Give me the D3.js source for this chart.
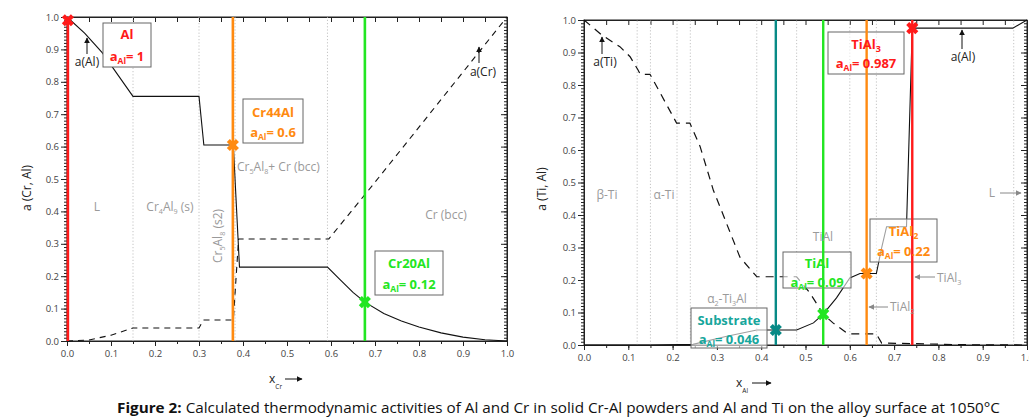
<!DOCTYPE html>
<html><head><meta charset="utf-8">
<script src="https://cdn.jsdelivr.net/npm/d3@7/dist/d3.min.js"></script>
<style>body{margin:0;background:#fff}svg{display:block}</style>
</head><body>
<script>
// ---------- DATA ----------
// Left panel: Cr-Al powders
const leftAlX = [0,0.04,0.08,0.15,0.30,0.311,0.378,0.392,0.592,0.62,0.65,0.677,0.72,0.76,0.80,0.85,0.90,0.95,1.0];
const leftAlY = [1.0,0.95,0.89,0.755,0.755,0.605,0.605,0.228,0.228,0.19,0.15,0.12,0.085,0.062,0.043,0.025,0.012,0.004,0.0];
const leftCrX = [0,0.05,0.10,0.15,0.30,0.31,0.378,0.39,0.595,0.70,0.80,0.90,1.0];
const leftCrY = [0,0.003,0.018,0.04,0.04,0.065,0.065,0.315,0.315,0.49,0.66,0.83,1.0];
const leftPhaseBounds = [0.15,0.30,0.382,0.592];
const leftAlloyX = [0.002,0.377,0.677];
const leftAlloyA = [0.99,0.605,0.12];
const leftAlloyName = ["Al","Cr44Al","Cr20Al"];
const leftAlloyVal = ["1","0.6","0.12"];
// Right panel: Ti-Al alloy surface
const rightAlX = [0,0.15,0.246,0.32,0.39,0.48,0.518,0.54,0.57,0.60,0.623,0.66,0.672,0.683,0.728,0.741,0.968,1.0];
const rightAlY = [0,0,0.002,0.026,0.046,0.046,0.068,0.095,0.145,0.206,0.22,0.22,0.30,0.364,0.364,0.975,0.975,1.0];
const rightTiX = [0,0.04,0.081,0.104,0.122,0.127,0.149,0.209,0.239,0.262,0.292,0.307,0.352,0.39,0.48,0.51,0.54,0.562,0.596,0.66,0.672,0.75,0.85,1.0];
const rightTiY = [1.0,0.954,0.918,0.887,0.846,0.833,0.833,0.683,0.683,0.611,0.476,0.425,0.27,0.21,0.21,0.16,0.095,0.068,0.034,0.034,0.006,0.004,0.001,0.0];
const rightPhaseBounds = [0.12,0.15,0.21,0.24,0.39,0.48,0.60,0.66,0.97];
const rightAlloyX = [0.433,0.540,0.638,0.741];
const rightAlloyA = [0.046,0.095,0.22,0.975];
const rightAlloyName = ["Substrate","TiAl","TiAl₂","TiAl₃"];
const rightAlloyVal = ["0.046","0.09","0.22","0.987"];
const majorTicks = d3.range(0,11).map(i=>i/10);
const tickLabels = majorTicks.map(d=>d.toFixed(1));

// ---------- STYLE ----------
const RED="#ff1a1a", ORANGE="#ff8a10", GREEN="#22e622", TEAL="#078a86", TEALTXT="#17a69c";
const GRAY="#9a9a9a";
const FONT="'Open Sans', 'DejaVu Sans', sans-serif";

const svg = d3.select("body").append("svg").attr("width",1029).attr("height",419)
  .style("font-family",FONT);
const defs = svg.append("defs");
function arrowMarker(id,color){
  defs.append("marker").attr("id",id).attr("viewBox","0 0 10 10").attr("refX",9).attr("refY",5)
   .attr("markerWidth",6).attr("markerHeight",6).attr("orient","auto-start-reverse")
   .append("path").attr("d","M0,0L10,5L0,10z").attr("fill",color);
}
arrowMarker("arrK","#111"); arrowMarker("arrG","#888");

function panel(x,y,xr,yr){
  const g = svg.append("g");
  g.append("rect").attr("x",xr[0]).attr("y",yr[1]).attr("width",xr[1]-xr[0]).attr("height",yr[0]-yr[1])
    .attr("fill","none").attr("stroke","#222").attr("stroke-width",1);
  const minorY = d3.range(0,101).map(i=>i/100);
  const minorX = d3.range(0,21).map(i=>i/20);
  g.append("g").attr("transform",`translate(${xr[0]},0)`)
   .call(d3.axisLeft(y).tickValues(minorY).tickFormat("").tickSize(3).tickSizeOuter(0));
  g.append("g").attr("transform",`translate(${xr[1]},0)`)
   .call(d3.axisLeft(y).tickValues(minorY).tickFormat("").tickSize(-3).tickSizeOuter(0))
   .call(a=>a.selectAll(".tick line").attr("x2",-3));
  g.append("g").attr("transform",`translate(${xr[1]},0)`)
   .call(d3.axisRight(y).tickValues(majorTicks).tickFormat("").tickSize(-6).tickSizeOuter(0));
  g.append("g").attr("transform",`translate(0,${yr[0]})`)
   .call(d3.axisBottom(x).tickValues(minorX).tickFormat("").tickSize(3).tickSizeOuter(0));
  g.append("g").attr("transform",`translate(0,${yr[1]})`)
   .call(d3.axisTop(x).tickValues(minorX).tickFormat("").tickSize(-5).tickSizeOuter(0));
  g.append("g").attr("transform",`translate(${xr[0]},0)`)
   .call(d3.axisLeft(y).tickValues(majorTicks).tickFormat((d,i)=>tickLabels[i]).tickSize(6).tickPadding(2).tickSizeOuter(0));
  g.append("g").attr("transform",`translate(0,${yr[0]})`)
   .call(d3.axisBottom(x).tickValues(majorTicks).tickFormat((d,i)=>tickLabels[i]).tickSize(5).tickPadding(4).tickSizeOuter(0));
  g.selectAll(".domain").attr("stroke","#222");
  g.selectAll(".tick line").attr("stroke","#222");
  g.selectAll(".tick text").attr("font-size",9.5).attr("fill","#444").attr("font-family",FONT);
  return g;
}

function lineOf(x,y,xs,ys){
  return d3.line().x((d,i)=>x(xs[i])).y((d,i)=>y(ys[i]))(xs);
}
function phaseLines(g,x,yr,bounds){
  g.selectAll(null).data(bounds).join("line")
   .attr("x1",d=>x(d)).attr("x2",d=>x(d)).attr("y1",yr[0]).attr("y2",yr[1])
   .attr("stroke","#bdbdbd").attr("stroke-width",0.9).attr("stroke-dasharray","1.2,2");
}
function grayText(g,xp,yp,parts,opts={}){
  const sz = opts.size||12;
  const t = g.append("text").attr("x",xp).attr("y",yp).attr("fill",GRAY).attr("font-size",sz)
    .attr("text-anchor",opts.anchor||"middle");
  if(opts.rotate) t.attr("transform",`rotate(-90,${xp},${yp})`);
  parts.forEach(p=>{
    const s = t.append("tspan").text(p[0]);
    if(p[1]==="sub") s.attr("font-size",sz*0.6).attr("dy",3);
    else if(p[1]==="back") s.attr("dy",-3);
  });
  return t;
}
function xMarker(g,cx,cy,color){
  g.append("path").attr("d",d3.symbol(d3.symbolCross,92)())
   .attr("transform",`translate(${cx},${cy}) rotate(45)`).attr("fill",color);
}
function alloyBox(g,b,fillOp){
  g.append("rect").attr("x",b[0]).attr("y",b[1]).attr("width",b[2]-b[0]).attr("height",b[3]-b[1])
   .attr("fill","#fff").attr("fill-opacity",fillOp).attr("stroke","#666").attr("stroke-width",1);
}
function alloyText(g,b,name,val,color,base){
  const cx=(b[0]+b[2])/2;
  const t1 = g.append("text").attr("x",cx).attr("y",base[0]).attr("text-anchor","middle")
    .attr("fill",color).attr("font-weight","bold").attr("font-size",13);
  if(name.endsWith("₂")||name.endsWith("₃")){
    t1.append("tspan").text(name.slice(0,-1));
    t1.append("tspan").text(name.endsWith("₂")?"2":"3").attr("font-size",9).attr("dy",3);
  } else t1.text(name);
  const t2 = g.append("text").attr("x",cx).attr("y",base[1]).attr("text-anchor","middle")
    .attr("fill",color).attr("font-weight","bold").attr("font-size",13);
  t2.append("tspan").text("a");
  t2.append("tspan").text("Al").attr("font-size",8.5).attr("dy",3);
  t2.append("tspan").text("= "+val).attr("dy",-3);
}
function arrowLine(g,x1,y1,x2,y2,mk,color){
  g.append("line").attr("x1",x1).attr("y1",y1).attr("x2",x2).attr("y2",y2)
   .attr("stroke",color).attr("stroke-width",1).attr("marker-end",`url(#${mk})`);
}
function blackLabel(g,xp,yp,txt){
  g.append("text").attr("x",xp).attr("y",yp).attr("text-anchor","middle").attr("font-size",12).attr("fill","#222").text(txt);
}

// ---------- LEFT PANEL ----------
const xrL=[67,507], yrL=[341,17];
const xL=d3.scaleLinear([0,1],xrL), yL=d3.scaleLinear([0,1],yrL);
const gL = panel(xL,yL,xrL,yrL);
phaseLines(gL,xL,yrL,leftPhaseBounds);
gL.append("path").attr("d",lineOf(xL,yL,leftCrX,leftCrY)).attr("fill","none").attr("stroke","#111")
  .attr("stroke-width",1.1).attr("stroke-dasharray","6,5");
gL.append("path").attr("d",lineOf(xL,yL,leftAlX,leftAlY)).attr("fill","none").attr("stroke","#111").attr("stroke-width",1.1);
const leftColors=[RED,ORANGE,GREEN];
leftAlloyX.forEach((v,i)=>{
  gL.append("line").attr("x1",xL(v)).attr("x2",xL(v)).attr("y1",yL(0)).attr("y2",yL(1))
    .attr("stroke",leftColors[i]).attr("stroke-width",2.6);
});
leftAlloyX.forEach((v,i)=>xMarker(gL,xL(v),yL(leftAlloyA[i]),leftColors[i]));
grayText(gL,97,211,[["L"]]);
grayText(gL,170,211,[["Cr"],["4","sub"],["Al","back"],["9","sub"],[" (s)","back"]]);
grayText(gL,222,236,[["Cr"],["5","sub"],["Al","back"],["8","sub"],[" (s2)","back"]],{rotate:true});
grayText(gL,237,171,[["Cr"],["5","sub"],["Al","back"],["8","sub"],["+ Cr (bcc)","back"]],{anchor:"start"});
grayText(gL,446,219,[["Cr (bcc)"]]);
blackLabel(gL,87,66,"a(Al)");
arrowLine(gL,87,54,87,38,"arrK","#111");
blackLabel(gL,483,76,"a(Cr)");
arrowLine(gL,479,63,479,47,"arrK","#111");
const leftBoxes=[[103,23,151,67],[243,99,303,143],[375,251,443,295]];
const leftBase=[[39,61],[117,137],[268,289]];
leftBoxes.forEach((b,i)=>{alloyBox(gL,b,1);alloyText(gL,b,leftAlloyName[i],leftAlloyVal[i],leftColors[i],leftBase[i]);});
gL.append("text").attr("x",31).attr("y",188).attr("transform","rotate(-90,31,188)").attr("text-anchor","middle")
  .attr("font-size",12).attr("fill","#222").text("a (Cr, Al)");
{
  const t=gL.append("text").attr("x",269).attr("y",383).attr("font-size",12).attr("fill","#222");
  t.append("tspan").text("x"); t.append("tspan").text("Cr").attr("font-size",6.5).attr("dy",6);
  arrowLine(gL,285,379,302,379,"arrK","#111");
}

// ---------- RIGHT PANEL ----------
const xrR=[584,1027], yrR=[345,20];
const xR=d3.scaleLinear([0,1],xrR), yR=d3.scaleLinear([0,1],yrR);
const gR = panel(xR,yR,xrR,yrR);
phaseLines(gR,xR,yrR,rightPhaseBounds);
gR.append("path").attr("d",lineOf(xR,yR,rightTiX,rightTiY)).attr("fill","none").attr("stroke","#111")
  .attr("stroke-width",1.2).attr("stroke-dasharray","8,6");
gR.append("path").attr("d",lineOf(xR,yR,rightAlX,rightAlY)).attr("fill","none").attr("stroke","#111").attr("stroke-width",1.1);
const rightColors=[TEAL,GREEN,ORANGE,RED];
const rightTxtColors=[TEALTXT,GREEN,ORANGE,RED];
const rightBoxes=[[691,308,767,348],[783,252,851,288],[870,219,937,262],[828,32,904,74]];
const rightBase=[[325,344],[268,287],[236,256],[49,68]];
rightBoxes.forEach((b,i)=>alloyBox(gR,b,0.6));
rightAlloyX.forEach((v,i)=>{
  gR.append("line").attr("x1",xR(v)).attr("x2",xR(v)).attr("y1",yR(0)).attr("y2",yR(1))
    .attr("stroke",rightColors[i]).attr("stroke-width",2.4);
});
rightAlloyX.forEach((v,i)=>xMarker(gR,xR(v),yR(rightAlloyA[i]),rightColors[i]));
rightBoxes.forEach((b,i)=>alloyText(gR,b,rightAlloyName[i],rightAlloyVal[i],rightTxtColors[i],rightBase[i]));
grayText(gR,607,199,[["β-Ti"]]);
grayText(gR,664,199,[["α-Ti"]]);
grayText(gR,727,303,[["α"],["2","sub"],["-Ti","back"],["3","sub"],["Al","back"]]);
grayText(gR,823,241,[["TiAl"]]);
grayText(gR,992,197,[["L"]]);
arrowLine(gR,1000,193,1021,193,"arrG","#888");
grayText(gR,937,282,[["TiAl"],["3","sub"]],{anchor:"start"});
arrowLine(gR,935,277,915,277,"arrG","#888");
grayText(gR,890,311,[["TiAl"],["2","sub"]],{anchor:"start"});
arrowLine(gR,888,307,869,307,"arrG","#888");
blackLabel(gR,605,66,"a(Ti)");
arrowLine(gR,602,54,602,37,"arrK","#111");
blackLabel(gR,963,61,"a(Al)");
arrowLine(gR,962,49,962,30,"arrK","#111");
gR.append("text").attr("x",546).attr("y",189).attr("transform","rotate(-90,546,189)").attr("text-anchor","middle")
  .attr("font-size",12).attr("fill","#222").text("a (Ti, Al)");
{
  const t=gR.append("text").attr("x",736).attr("y",387).attr("font-size",12).attr("fill","#222");
  t.append("tspan").text("x"); t.append("tspan").text("Al").attr("font-size",6.5).attr("dy",6);
  arrowLine(gR,752,383,771,383,"arrK","#111");
}

// ---------- CAPTION ----------
const cap = svg.append("text").attr("x",117).attr("y",413).attr("font-size",14).attr("fill","#111")
  .attr("font-family","'Liberation Sans Narrow','Open Sans',sans-serif")
  .attr("textLength",883).attr("lengthAdjust","spacingAndGlyphs");
cap.append("tspan").attr("font-weight","bold").text("Figure 2:");
cap.append("tspan").text(" Calculated thermodynamic activities of Al and Cr in solid Cr-Al powders and Al and Ti on the alloy surface at 1050°C");
</script>
</body></html>
